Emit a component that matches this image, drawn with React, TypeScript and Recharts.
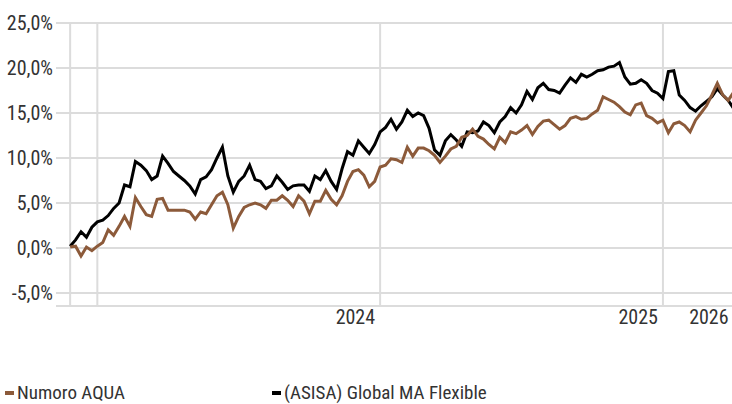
import React from 'react';
import { LineChart, Line, XAxis, YAxis, CartesianGrid, ReferenceLine } from 'recharts';

// Weekly cumulative returns (%)
const aquaValues: number[] = [
  0.1, 0.2, -0.9, 0.1, -0.3, 0.2, 0.6, 2.0, 1.4, 2.4,
  3.5, 2.4, 5.6, 4.6, 3.7, 3.5, 5.4, 5.5, 4.2, 4.2,
  4.2, 4.2, 4.0, 3.2, 4.0, 3.8, 4.8, 5.8, 6.2, 4.8,
  2.2, 3.5, 4.5, 4.8, 5.0, 4.8, 4.4, 5.3, 5.3, 5.8,
  5.3, 4.6, 5.8, 5.2, 3.8, 5.2, 5.2, 6.4, 5.4, 4.8,
  5.8, 7.4, 8.5, 8.7, 8.1, 6.8, 7.4, 9.0, 9.2, 9.9,
  9.8, 9.5, 11.2, 10.2, 11.1, 11.1, 10.8, 10.3, 9.5, 10.2,
  11.0, 11.3, 12.3, 12.5, 13.2, 12.4, 12.1, 11.5, 11.0, 12.3,
  11.7, 12.9, 12.7, 13.1, 13.6, 12.6, 13.5, 14.1, 14.2, 13.7,
  13.2, 13.6, 14.4, 14.6, 14.3, 14.4, 14.9, 15.3, 16.8, 16.5,
  16.2, 15.7, 15.1, 14.8, 15.9, 16.1, 14.7, 14.4, 13.9, 14.2,
  12.8, 13.8, 14.0, 13.6, 12.9, 14.2, 15.0, 15.8, 17.0, 18.3,
  17.0, 16.4, 17.3,
];

const asisaValues: number[] = [
  0.2, 0.9, 1.8, 1.2, 2.3, 2.9, 3.1, 3.6, 4.4, 5.0,
  7.0, 6.8, 9.6, 9.2, 8.6, 7.6, 8.0, 10.2, 9.4, 8.5,
  8.0, 7.5, 6.9, 6.0, 7.6, 7.9, 8.7, 10.0, 11.2, 8.0,
  6.2, 7.4, 8.0, 9.2, 7.6, 7.4, 6.6, 6.9, 8.0, 7.3,
  6.5, 6.9, 7.0, 7.0, 6.3, 8.0, 7.6, 8.6, 7.4, 6.5,
  8.8, 10.7, 10.3, 11.9, 11.2, 10.5, 11.5, 12.9, 13.4, 14.3,
  13.2, 14.0, 15.3, 14.6, 15.0, 14.7, 13.3, 10.9, 10.3, 11.9,
  12.6, 12.0, 11.3, 12.9, 12.8, 13.0, 14.0, 13.6, 12.8, 14.0,
  14.6, 15.6, 15.0, 15.9, 17.4, 16.5, 17.8, 18.3, 17.6, 17.5,
  17.2, 18.1, 18.9, 18.4, 19.3, 19.0, 19.3, 19.7, 19.8, 20.1,
  20.2, 20.6, 19.0, 18.2, 18.3, 18.7, 18.3, 17.5, 17.2, 16.6,
  19.6, 19.7, 17.0, 16.4, 15.6, 15.2, 15.8, 16.3, 16.8, 17.7,
  17.0, 16.4, 15.5,
];

const seriesNames: string[] = ['Numoro AQUA', '(ASISA) Global MA Flexible'];
const seriesKeys: string[] = ['aqua', 'asisa'];
const seriesColors: string[] = ['#8c5a3a', '#000000'];

const yTicks: number[] = [-5, 0, 5, 10, 15, 20, 25];
const gridWeekIdx: number[] = [0, 5, 57, 109];
const labelWeekIdx: number[] = [57, 109, 122];
const yearLabels: string[] = ['2024', '2025', '2026'];

const data = aquaValues.map((v, i) => ({ week: i, aqua: v, asisa: asisaValues[i] }));

const FONT = "'Liberation Sans Narrow', 'Roboto Condensed', 'DejaVu Sans Condensed', sans-serif";
const TEXT = '#333333';
const GRID = '#dcdcdc';

const fmtPct = (v: number) => `${v.toFixed(1).replace('.', ',')}%`;

const YearTick = (props: any) => {
  const { x, y, payload } = props;
  const k = labelWeekIdx.indexOf(payload.value);
  if (k < 0) return null;
  return (
    <text x={x - 5} y={y} dy={16} textAnchor="end" fill={TEXT} fontSize={20} fontFamily={FONT}>
      {yearLabels[k]}
    </text>
  );
};

export default function App() {
  return (
    <div style={{ position: 'absolute', left: 0, top: 0, width: 732, height: 404, background: '#fff', overflow: 'hidden' }}>
      <LineChart width={732} height={330} data={data} margin={{ top: 23, right: 0, bottom: 0, left: 0 }}>
        <CartesianGrid vertical={false} stroke={GRID} strokeWidth={2} />
        {gridWeekIdx.map((w) => (
          <ReferenceLine key={w} x={w} stroke={GRID} strokeWidth={2} />
        ))}
        <XAxis
          dataKey="week"
          type="number"
          domain={[-2.6, 121.7]}
          ticks={labelWeekIdx}
          allowDataOverflow
          axisLine={false}
          tickLine={false}
          tickSize={0}
          height={24}
          tick={<YearTick />}
          interval={0}
        />
        <YAxis
          type="number"
          domain={[-6.45, 25]}
          ticks={yTicks}
          allowDataOverflow
          axisLine={false}
          tickLine={false}
          tickSize={0}
          tickMargin={3}
          width={56}
          tickFormatter={fmtPct}
          tick={{ fill: TEXT, fontSize: 20, fontFamily: FONT }}
          interval={0}
        />
        <Line dataKey={seriesKeys[1]} stroke={seriesColors[1]} strokeWidth={3} dot={false} isAnimationActive={false} />
        <Line dataKey={seriesKeys[0]} stroke={seriesColors[0]} strokeWidth={3} dot={false} isAnimationActive={false} />
      </LineChart>
      {seriesNames.map((name, k) => (
        <div
          key={name}
          style={{
            position: 'absolute',
            top: 382,
            left: k === 0 ? 5 : 272,
            height: 22,
            lineHeight: '22px',
            display: 'flex',
            alignItems: 'center',
            fontFamily: FONT,
            fontSize: 19,
            color: TEXT,
            whiteSpace: 'nowrap',
          }}
        >
          <span style={{ display: 'inline-block', width: 9, height: 4, background: seriesColors[k], marginRight: 3 }} />
          {name}
        </div>
      ))}
    </div>
  );
}
